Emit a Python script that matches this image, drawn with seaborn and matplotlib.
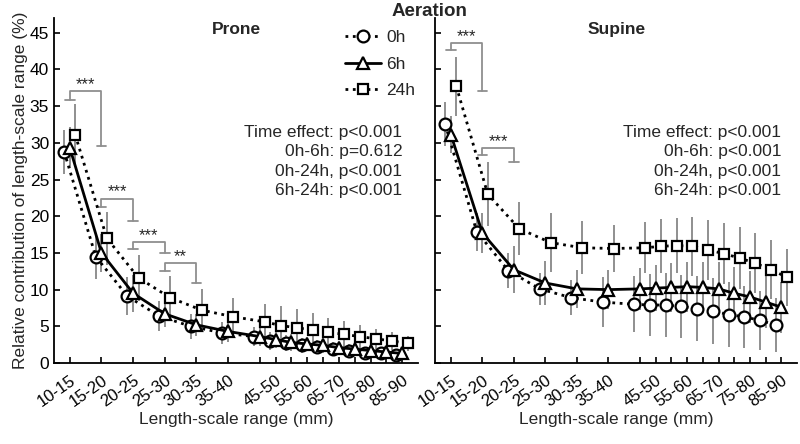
import numpy as np
import pandas as pd
import matplotlib
matplotlib.use('Agg')
import matplotlib.pyplot as plt
from matplotlib.lines import Line2D
import seaborn as sns

# length-scale ranges (mm), one point per range
ranges = ['10-15', '15-20', '20-25', '25-30', '30-35', '35-40', '40-45', '45-50',
          '50-55', '55-60', '60-65', '65-70', '70-75', '75-80', '80-85', '85-90']
shown_labels = ['10-15', '15-20', '20-25', '25-30', '30-35', '35-40',
                '45-50', '55-60', '65-70', '75-80', '85-90']
times = ['0h', '6h', '24h']

# Prone means / SD
prone_0h = [28.8, 14.5, 9.1, 6.4, 5.0, 4.1, 3.6, 3.0, 2.7, 2.4, 2.2, 1.9, 1.7, 1.4, 1.3, 1.1]
prone_6h = [29.3, 15.0, 9.5, 6.7, 5.2, 4.3, 3.6, 3.2, 2.8, 2.6, 2.4, 2.1, 1.9, 1.7, 1.5, 1.3]
prone_24h = [31.1, 17.0, 11.6, 8.9, 7.2, 6.3, 5.6, 5.1, 4.8, 4.5, 4.2, 3.9, 3.6, 3.3, 3.0, 2.7]
prone_sd_0h = [3.0, 3.0, 2.6, 2.0, 1.7, 1.5, 1.3, 1.2, 1.1, 1.0, 1.0, 0.9, 0.9, 0.8, 0.8, 0.7]
prone_sd_6h = [2.8, 2.6, 2.5, 1.8, 1.5, 1.4, 1.3, 1.2, 1.1, 1.0, 1.0, 0.9, 0.9, 0.8, 0.8, 0.7]
prone_sd_24h = [4.2, 3.6, 3.1, 2.9, 2.9, 2.6, 2.4, 2.7, 2.5, 2.3, 2.0, 1.8, 1.6, 1.4, 1.2, 1.0]

# Supine means / SD
supine_0h = [32.5, 17.9, 12.6, 10.1, 8.9, 8.3, 8.0, 7.9, 7.9, 7.7, 7.4, 7.1, 6.6, 6.3, 5.8, 5.2]
supine_6h = [31.1, 17.7, 12.7, 10.9, 10.1, 10.0, 10.1, 10.2, 10.3, 10.4, 10.3, 10.1, 9.5, 9.0, 8.3, 7.6]
supine_24h = [37.7, 23.0, 18.3, 16.4, 15.7, 15.6, 15.7, 15.9, 16.0, 15.9, 15.4, 14.9, 14.3, 13.6, 12.7, 11.7]
supine_sd_0h = [3.0, 2.6, 2.4, 2.2, 2.4, 3.4, 3.8, 4.2, 4.3, 4.3, 4.4, 4.5, 4.4, 4.2, 4.0, 3.7]
supine_sd_6h = [2.5, 2.7, 3.2, 3.0, 2.6, 2.7, 2.9, 3.1, 3.3, 3.4, 3.5, 3.6, 3.6, 3.6, 3.5, 3.5]
supine_sd_24h = [4.0, 4.4, 3.6, 4.0, 3.6, 3.2, 3.5, 3.7, 3.8, 4.0, 4.1, 4.2, 4.2, 4.1, 4.0, 3.9]

# significance brackets: (from range idx, to range idx, left end, top, right end, stars)
prone_brackets = [(0, 1, 35.9, 37.0, 29.5, '***'),
                  (1, 2, 21.3, 22.4, 19.4, '***'),
                  (2, 3, 15.5, 16.5, 15.0, '***'),
                  (3, 4, 12.6, 13.6, 10.9, '**')]
supine_brackets = [(0, 1, 42.6, 43.6, 37.0, '***'),
                   (1, 2, 28.4, 29.3, 27.4, '***')]

prone_stats = ['Time effect: p<0.001', '0h-6h: p=0.612', '0h-24h, p<0.001', '6h-24h: p<0.001']
supine_stats = ['Time effect: p<0.001', '0h-6h: p<0.001', '0h-24h, p<0.001', '6h-24h: p<0.001']

sns.set_style('ticks')
plt.rcParams['font.family'] = ['Liberation Sans', 'DejaVu Sans']

# x layout: full spacing up to 40-45, half spacing afterwards
xpos = np.r_[np.arange(7), np.arange(6.5, 11, 0.5)]
offsets = {'0h': -0.18, '6h': 0.0, '24h': 0.17}
styles = {'0h': dict(marker='o', linestyle=':', ms=8.5),
          '6h': dict(marker='^', linestyle='-', ms=8.5),
          '24h': dict(marker='s', linestyle=':', ms=7.5)}

fig = plt.figure(figsize=(8, 4.44), dpi=100)
ax1 = fig.add_axes([0.0675, 0.1824, 0.455, 0.777])
ax2 = fig.add_axes([0.544, 0.1824, 0.4525, 0.777])

panels = [
    (ax1, 'Prone', [prone_0h, prone_6h, prone_24h], [prone_sd_0h, prone_sd_6h, prone_sd_24h],
     prone_brackets, prone_stats),
    (ax2, 'Supine', [supine_0h, supine_6h, supine_24h], [supine_sd_0h, supine_sd_6h, supine_sd_24h],
     supine_brackets, supine_stats),
]

for ax, name, means, sds, brackets, stats in panels:
    for t, m, s in zip(times, means, sds):
        df = pd.DataFrame({'x': xpos + offsets[t], 'y': m, 'sd': s})
        ax.vlines(df['x'], df['y'] - df['sd'], df['y'] + df['sd'],
                  color='#8f8f8f', lw=1.4, zorder=1)
        sns.lineplot(data=df, x='x', y='y', ax=ax, color='black', lw=2,
                     mfc='white', mec='black', mew=1.6, zorder=3,
                     **styles[t])

    for i0, i1, yl, yt, yr, stars in brackets:
        x0, x1 = xpos[i0], xpos[i1]
        ax.plot([x0, x0, x1, x1], [yl, yt, yt, yr], color='#8f8f8f', lw=1.3, zorder=2)
        ax.plot([x0 - 0.15, x0 + 0.15], [yl, yl], color='#8f8f8f', lw=1.3, zorder=2)
        ax.plot([x1 - 0.15, x1 + 0.15], [yr, yr], color='#8f8f8f', lw=1.3, zorder=2)
        ax.text((x0 + x1) / 2, yt + 0.9, stars, ha='center', va='center', fontsize=12)

    for k, line in enumerate(stats):
        ax.text(10.5, 31.4 - 2.65 * k, line, ha='right', va='center', fontsize=12.5)

    ax.text(0.5, 0.968, name, transform=ax.transAxes, ha='center', va='center',
            fontsize=12.5, fontweight='bold')

    ax.set_xlim(-0.5, 11.0)
    ax.set_ylim(0, 47)
    ax.set_yticks(np.arange(0, 46, 5))
    ax.set_xticks(xpos)
    ax.set_xticklabels([r if r in shown_labels else '' for r in ranges],
                       rotation=35, ha='right', rotation_mode='anchor', fontsize=12)
    ax.tick_params(direction='in', length=4, width=1.2, colors='black', labelsize=12.5)
    ax.tick_params(axis='x', pad=7, labelsize=12)
    ax.set_xlabel('Length-scale range (mm)', fontsize=12.5, labelpad=2)
    ax.set_ylabel('')
    for sp in ['left', 'bottom']:
        ax.spines[sp].set_linewidth(1.3)
        ax.spines[sp].set_color('black')
    sns.despine(ax=ax)

ax2.set_yticklabels([])
ax1.set_ylabel('Relative contribution of length-scale range (%)', fontsize=12.5, labelpad=1)

handles = [Line2D([], [], color='black', lw=2, mfc='white', mec='black', mew=1.6, **styles[t])
           for t in times]
ax1.legend(handles, times, loc='upper left', bbox_to_anchor=(0.78, 0.985), frameon=False,
           fontsize=12.5, handlelength=2.1, handletextpad=0.3, labelspacing=0.65,
           borderaxespad=0)

fig.text(0.537, 0.975, 'Aeration', ha='center', va='center', fontsize=13.5, fontweight='bold')

fig.savefig('out.png', dpi=100)
